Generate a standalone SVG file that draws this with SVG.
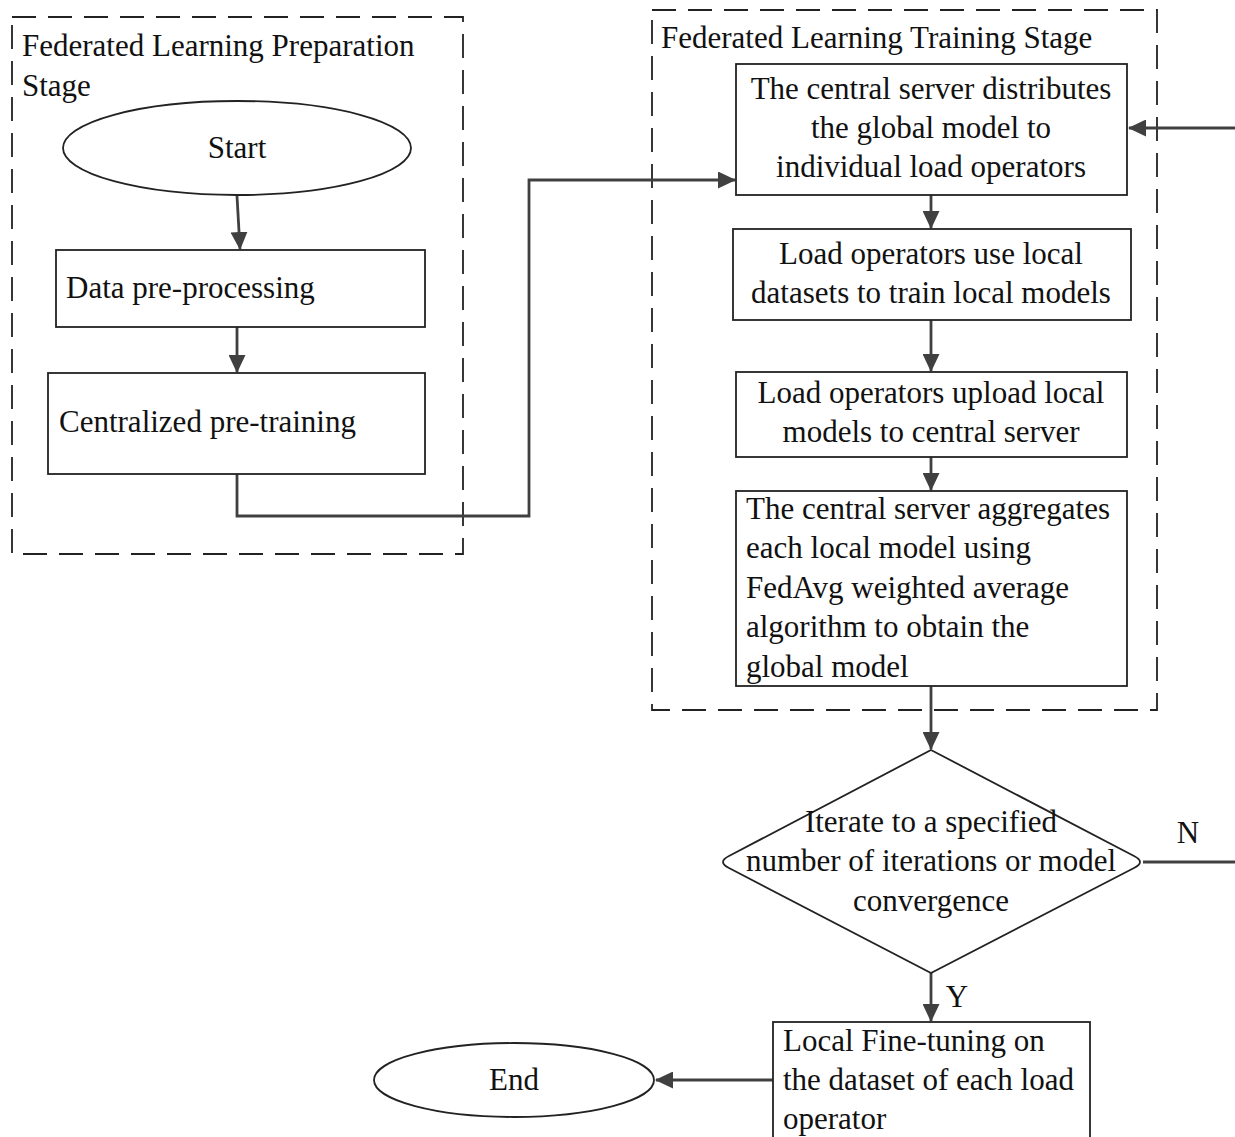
<svg xmlns="http://www.w3.org/2000/svg" width="1235" height="1137" viewBox="0 0 1235 1137">
<defs>
<marker id="ah" viewBox="0 0 18 17" refX="17" refY="8.5" markerWidth="18" markerHeight="17" markerUnits="userSpaceOnUse" orient="auto">
<path d="M0,0 L18,8.5 L0,17 z" fill="#404040"/>
</marker>
<style>
text{font-family:"Liberation Serif","Times New Roman",serif;font-size:31px;fill:#111}
.c{text-anchor:middle}
.box{fill:#fff;stroke:#222;stroke-width:1.8}
.stage{fill:none;stroke:#222;stroke-width:1.8;stroke-dasharray:24 12}
.conn{fill:none;stroke:#404040;stroke-width:2.8}
</style>
</defs>
<rect width="1235" height="1137" fill="#fff"/>
<g id="stage-prep">
<rect class="stage" x="12" y="17" width="451" height="537"/>
<text x="22" y="56">Federated Learning Preparation</text>
<text x="22" y="96">Stage</text>
</g>
<g id="stage-train">
<rect class="stage" x="652" y="10" width="505" height="700"/>
<text x="661" y="48">Federated Learning Training Stage</text>
</g>
<g id="connectors">
<path class="conn" d="M237,196 L240,249" marker-end="url(#ah)"/>
<path class="conn" d="M237,327 L237,372" marker-end="url(#ah)"/>
<path class="conn" d="M237,474 L237,516 L529,516 L529,180 L735,180" marker-end="url(#ah)"/>
<path class="conn" d="M1235,128 L1129,128" marker-end="url(#ah)"/>
<path class="conn" d="M931,195 L931,228" marker-end="url(#ah)"/>
<path class="conn" d="M931,320 L931,371" marker-end="url(#ah)"/>
<path class="conn" d="M931,457 L931,490" marker-end="url(#ah)"/>
<path class="conn" d="M931,686 L931,749" marker-end="url(#ah)"/>
<path class="conn" d="M1143,862 L1235,862"/>
<path class="conn" d="M931,973 L931,1021" marker-end="url(#ah)"/>
<path class="conn" d="M773,1080 L656,1080" marker-end="url(#ah)"/>
<text x="1188" y="843" class="c">N</text>
<text x="957" y="1007" class="c">Y</text>
</g>
<g id="start">
<ellipse class="box" cx="237" cy="148" rx="174" ry="47"/>
<text x="237" y="158" class="c">Start</text>
</g>
<g id="preprocess">
<rect class="box" x="56" y="250" width="369" height="77"/>
<text x="66" y="298">Data pre-processing</text>
</g>
<g id="pretrain">
<rect class="box" x="48" y="373" width="377" height="101"/>
<text x="59" y="432">Centralized pre-training</text>
</g>
<g id="distribute">
<rect class="box" x="736" y="64" width="391" height="131"/>
<text x="931" y="99" class="c">The central server distributes</text>
<text x="931" y="138" class="c">the global model to</text>
<text x="931" y="177" class="c">individual load operators</text>
</g>
<g id="local-train">
<rect class="box" x="733" y="229" width="398" height="91"/>
<text x="931" y="264" class="c">Load operators use local</text>
<text x="931" y="303" class="c">datasets to train local models</text>
</g>
<g id="upload">
<rect class="box" x="736" y="372" width="391" height="85"/>
<text x="931" y="403" class="c">Load operators upload local</text>
<text x="931" y="442" class="c">models to central server</text>
</g>
<g id="aggregate">
<rect class="box" x="736" y="491" width="391" height="195"/>
<text x="746" y="519">The central server aggregates</text>
<text x="746" y="558">each local model using</text>
<text x="746" y="598">FedAvg weighted average</text>
<text x="746" y="637">algorithm to obtain the</text>
<text x="746" y="677">global model</text>
</g>
<g id="decision">
<path class="box" d="M931,750 L1134,856 Q1146,862 1134,868 L931,973 L729,868 Q717,862 729,856 Z"/>
<text x="931" y="832" class="c">Iterate to a specified</text>
<text x="931" y="871" class="c">number of iterations or model</text>
<text x="931" y="911" class="c">convergence</text>
</g>
<g id="finetune">
<rect class="box" x="773" y="1022" width="317" height="130"/>
<text x="783" y="1051">Local Fine-tuning on</text>
<text x="783" y="1090">the dataset of each load</text>
<text x="783" y="1129">operator</text>
</g>
<g id="end">
<ellipse class="box" cx="514" cy="1080" rx="140" ry="37"/>
<text x="514" y="1090" class="c">End</text>
</g>
</svg>
